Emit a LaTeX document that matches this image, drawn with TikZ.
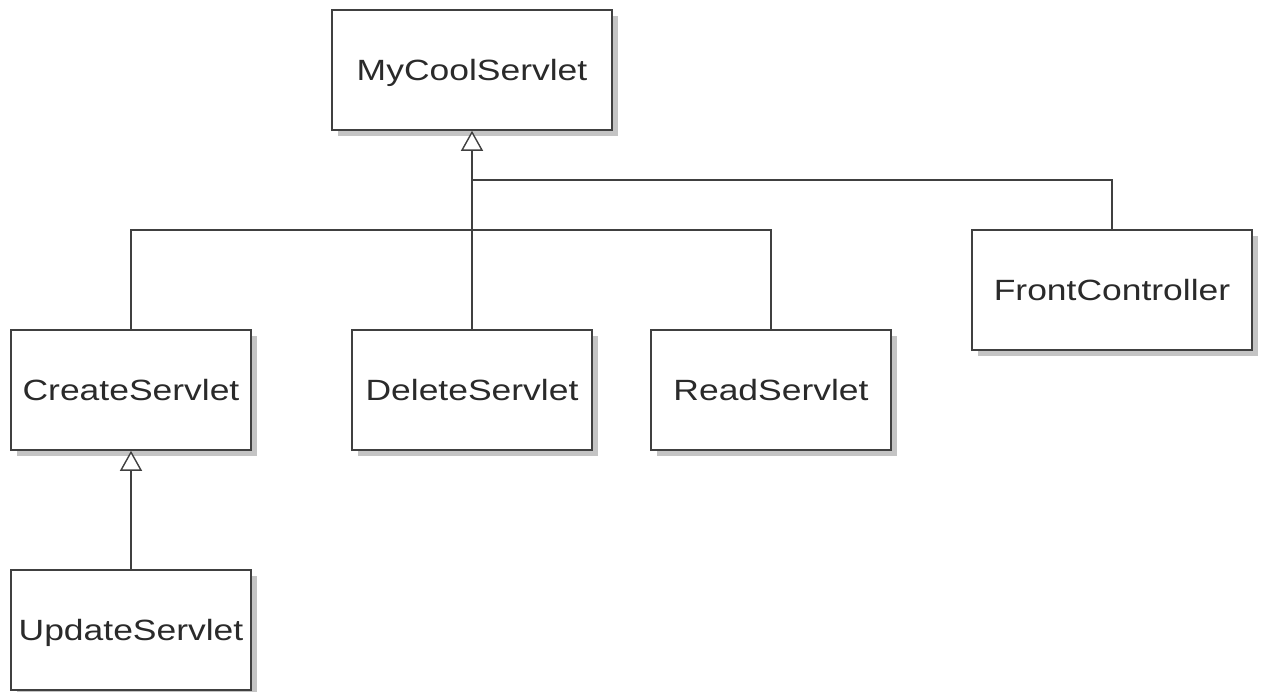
\documentclass[tikz,border=0pt]{standalone}
\usepackage{fontspec}
\setmainfont[FakeStretch=1.21]{Liberation Sans}
\usetikzlibrary{arrows.meta,shadows}
\definecolor{edge}{HTML}{404040}
\definecolor{txt}{HTML}{2A2A2A}
\definecolor{shade}{HTML}{C4C4C4}
\tikzset{
  cls/.style={draw=edge, line width=1.6pt, fill=white, minimum height=120pt,
    inner sep=0pt, text=txt, font=\fontsize{29.3}{35}\selectfont,
    text depth=0pt, text height=21pt,
    drop shadow={shadow xshift=6pt, shadow yshift=-6pt, fill=shade, opacity=1}},
  narrow/.style={cls, minimum width=240pt},
  wide/.style={cls, minimum width=280pt},
  link/.style={draw=edge, line width=1.4pt},
  inh/.style={link, -{Triangle[open, length=20pt, width=22pt, fill=white]}}
}
\begin{document}
\begin{tikzpicture}[x=1pt,y=-1pt]
\useasboundingbox (0,0) rectangle (1263,692);
\node[wide] (my) at (472,70) {MyCoolServlet};
\node[narrow] (cre) at (131,390) {CreateServlet};
\node[narrow] (del) at (472,390) {DeleteServlet};
\node[narrow] (rd) at (771,390) {ReadServlet};
\node[wide] (fc) at (1112,290) {FrontController};
\node[narrow] (upd) at (131,630) {UpdateServlet};
\coordinate (j1) at (472,180);
\coordinate (j2) at (472,230);
\draw[link] (fc.north) |- (j1);
\draw[link] (cre.north) -- (cre.north |- j2) -- (rd.north |- j2) -- (rd.north);
\draw[inh] (del.north) -- (my.south);
\draw[inh] (upd.north) -- (cre.south);
\end{tikzpicture}
\end{document}
